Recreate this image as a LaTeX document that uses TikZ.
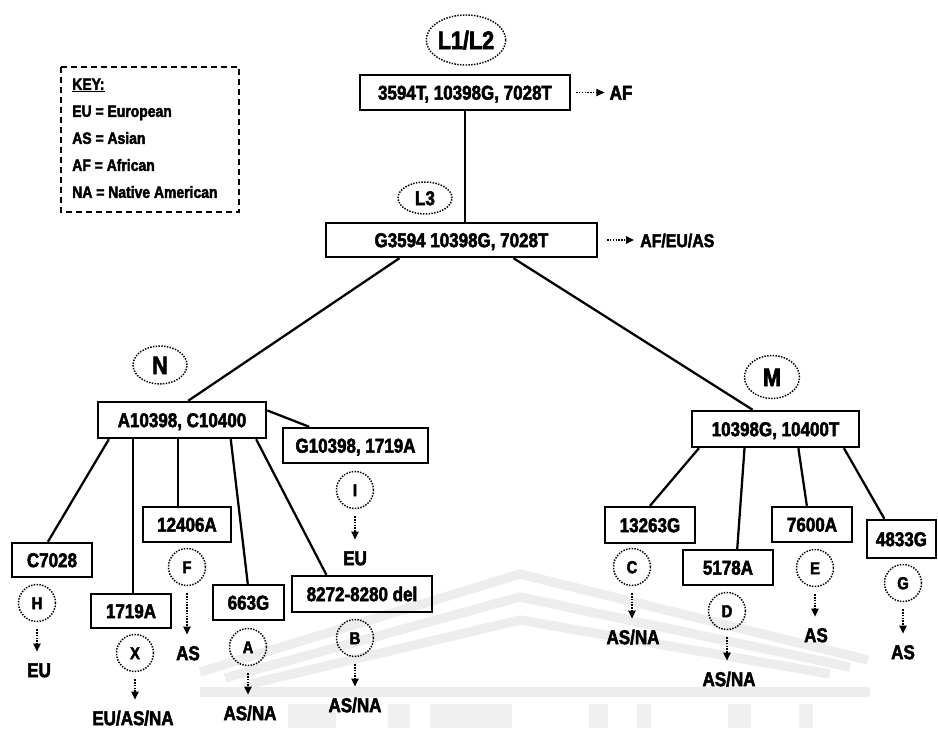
\documentclass[tikz,border=0pt]{standalone}
\usepackage{fontspec}
\setmainfont{Liberation Sans}[FakeStretch=0.85, BoldFeatures={FakeBold=2.5}]
\usetikzlibrary{shapes.geometric,arrows.meta,calc}
\newcommand\myfs[1]{\fontsize{#1}{#1}\selectfont}
\tikzset{
  box/.style={draw, line width=1.8pt, font=\bfseries\myfs{15}, inner sep=0pt, text height=10.7pt, text depth=0pt},
  ring/.style={draw, ellipse, densely dotted, line width=1.1pt, inner sep=0pt, font=\bfseries\myfs{13}, text height=9.3pt, text depth=0pt},
  lab/.style={font=\bfseries\myfs{15}, inner sep=0pt, text height=10.7pt, text depth=0pt},
  keytext/.style={font=\bfseries\myfs{12.3}, inner sep=0pt, anchor=west, text height=8.8pt, text depth=0pt},
  keyframe/.style={draw, line width=1.5pt, dash pattern=on 4.5pt off 3pt},
  link/.style={line width=1.7pt},
  darr/.style={densely dotted, line width=1.1pt, -{Triangle[length=6pt,width=5.5pt]}},
  wm/.style={line width=7pt, color=black!7},
  wmcol/.style={fill=black!6, draw=none},
  sz/.style 2 args={minimum width=#1*0.75pt, minimum height=#2*0.75pt}
}
\newcommand\leaf[6]{%
  \node[ring, sz={37}{37}] (r#1) at (#3) {#2};
  \node[lab] (l#1) at (#5) {#4};
  \draw[darr, shorten <=5.25pt, shorten >=8.25pt] (r#1.south) -- (r#1.south |- l#1.north);
}
\begin{document}
\begin{tikzpicture}[x=0.75pt,y=-0.75pt]
\useasboundingbox (0,0) rectangle (938,728);

% faint watermark
\draw[wm] (200,672) -- (520,574) -- (868,660);
\draw[wm] (225,678) -- (520,597) -- (850,667);
\draw[wm] (250,684) -- (520,620) -- (830,674);
\draw[wm] (200,692) -- (870,692);
\foreach \a/\b in {288/336,388/410,430/512,589/608,637/651,728/751,799/813}
  \fill[wmcol] (\a,704) rectangle (\b,728);

% key
\draw[keyframe] (61,67) rectangle (239,212);
\node[keytext] (k1) at (72,84) {\underline{KEY:}};
\node[keytext] (k2) at (72,111) {EU = European};
\node[keytext] (k3) at (72,138) {AS = Asian};
\node[keytext] (k4) at (72,165) {AF = African};
\node[keytext] (k5) at (72,192) {NA = Native American};

% top
\node[ring, sz={75}{50}, font=\bfseries\myfs{19}, text height=13.6pt] (eL12) at (466,40) {L1/L2};
\node[box, sz={210}{35}] (T) at (465,92.5) {3594T, 10398G, 7028T};
\node[lab] (aAF) at (621,92.5) {AF};
\draw[darr, shorten <=3.75pt, shorten >=3.75pt] (T.east) -- (aAF.west);

\node[ring, sz={54}{32}, font=\bfseries\myfs{15}, text height=10.7pt] (eL3) at (425,198) {L3};
\node[box, sz={271}{34}] (L3) at (461.5,240) {G3594 10398G, 7028T};
\node[lab, anchor=west, font=\bfseries\myfs{14}] (aL3) at (640,240) {AF/EU/AS};
\draw[darr, shorten <=6.75pt, shorten >=4.5pt] (L3.east) -- (aL3.west);
\draw[link] (T.south) -- (T.south |- L3.north);

% N branch
\node[ring, sz={54}{38}, font=\bfseries\myfs{19}, text height=13.6pt] (eN) at (160,365) {N};
\node[box, sz={168}{36}] (Nb) at (182,420) {A10398, C10400};
\draw[link] ($(L3.south west)!0.273!(L3.south east)$) -- ($(Nb.north west)!0.536!(Nb.north east)$);

\node[box, sz={145}{35}] (bG) at (355.5,445.5) {G10398, 1719A};
\draw[link] ($(Nb.north east)!0.25!(Nb.south east)$) -- ($(bG.north west)!0.186!(bG.north east)$);
\leaf{I}{I}{355,490}{EU}{355,558}{}

\node[box, sz={80}{34}] (bC7028) at (52,560) {C7028};
\draw[link] ($(Nb.south west)!0.071!(Nb.south east)$) -- ($(bC7028.north west)!0.45!(bC7028.north east)$);
\leaf{H}{H}{37,603}{EU}{39,670}{}

\node[box, sz={80}{34}] (b1719) at (131,611) {1719A};
\coordinate (p1) at ($(Nb.south west)!0.214!(Nb.south east)$);
\draw[link] (p1) -- (p1 |- b1719.north);
\leaf{X}{X}{135,653}{EU/AS/NA}{133,718}{}

\node[box, sz={88}{35}] (b12406) at (187,524.5) {12406A};
\coordinate (p2) at ($(Nb.south west)!0.476!(Nb.south east)$);
\draw[link] (p2) -- (p2 |- b12406.north);
\leaf{F}{F}{187,567}{AS}{188,653}{}

\node[box, sz={71}{35}] (b663) at (248.5,602.5) {663G};
\draw[link] ($(Nb.south west)!0.786!(Nb.south east)$) -- ($(b663.north west)!0.49!(b663.north east)$);
\leaf{A}{A}{248,647}{AS/NA}{250,713}{}

\node[box, sz={140}{36}] (b8272) at (362,594) {8272-8280 del};
\draw[link] ($(Nb.south west)!0.935!(Nb.south east)$) -- ($(b8272.north west)!0.25!(b8272.north east)$);
\leaf{B}{B}{355,638}{AS/NA}{355,705}{}

% M branch
\node[ring, sz={55}{43}, font=\bfseries\myfs{19}, text height=13.6pt] (eM) at (772,377) {M};
\node[box, sz={167}{36}] (Mb) at (775.5,429) {10398G, 10400T};
\draw[link] ($(L3.south west)!0.69!(L3.south east)$) -- ($(Mb.north west)!0.365!(Mb.north east)$);

\node[box, sz={90}{36}] (b13263) at (650,525) {13263G};
\draw[link] ($(Mb.south west)!0.048!(Mb.south east)$) -- ($(b13263.north west)!0.5!(b13263.north east)$);
\leaf{C}{C}{632,567}{AS/NA}{633,637}{}

\node[box, sz={90}{35}] (b5178) at (728,567.5) {5178A};
\draw[link] ($(Mb.south west)!0.317!(Mb.south east)$) -- ($(b5178.north west)!0.6!(b5178.north east)$);
\leaf{D}{D}{727,611}{AS/NA}{729,679}{}

\node[box, sz={80}{35}] (b7600) at (812,524.5) {7600A};
\draw[link] ($(Mb.south west)!0.635!(Mb.south east)$) -- ($(b7600.north west)!0.4375!(b7600.north east)$);
\leaf{E}{E}{815,568}{AS}{816,635}{}

\node[box, sz={69}{38}] (b4833) at (901.5,539) {4833G};
\draw[link] ($(Mb.south west)!0.904!(Mb.south east)$) -- ($(b4833.north west)!0.26!(b4833.north east)$);
\leaf{G}{G}{903,583}{AS}{903,652}{}
\end{tikzpicture}
\end{document}
